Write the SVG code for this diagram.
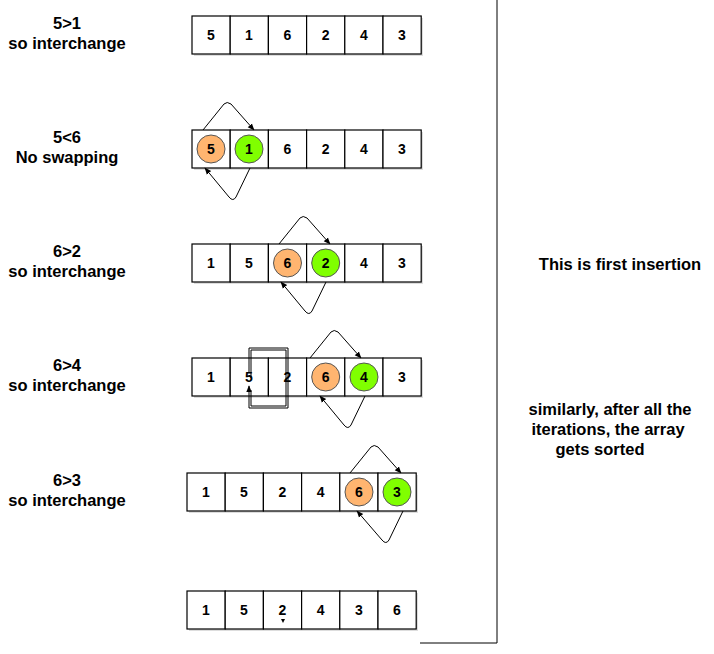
<svg xmlns="http://www.w3.org/2000/svg" width="714" height="654" viewBox="0 0 714 654">
<style>
text{font-family:"Liberation Sans",Arial,sans-serif;font-weight:bold;font-size:16.5px;fill:#000;text-anchor:middle}
.n{font-size:14px}
.c{fill:#fff;stroke:#000;stroke-width:1.2}
.sh{fill:#bbb;opacity:.5}
.o{fill:#FFB570;stroke:#555;stroke-width:1}
.g{fill:#80FF00;stroke:#555;stroke-width:1}
.a{fill:none;stroke:#000;stroke-width:1;marker-end:url(#ah)}
.l{fill:none;stroke:#000;stroke-width:1}
</style>
<defs>
<marker id="ah" viewBox="0 0 10 10" refX="9" refY="5" markerWidth="7" markerHeight="7" orient="auto"><path d="M0,1 L10,5 L0,9 z" fill="#000"/></marker>
<g id="row"><rect class="sh" x="2" y="2" width="229" height="38"/>
<rect class="c" x="0" y="0" width="38.2" height="38"/><rect class="c" x="38.2" y="0" width="38.2" height="38"/><rect class="c" x="76.4" y="0" width="38.2" height="38"/><rect class="c" x="114.6" y="0" width="38.2" height="38"/><rect class="c" x="152.8" y="0" width="38.2" height="38"/><rect class="c" x="191" y="0" width="38.2" height="38"/></g>
</defs>
<rect width="714" height="654" fill="#fff"/>
<g id="frame"><path class="l" d="M497,0 V643 H420"/></g>
<g id="labels">
<text x="67" y="29">5&gt;1</text><text x="67" y="49">so interchange</text>
<text x="67" y="143">5&lt;6</text><text x="67" y="163">No swapping</text>
<text x="67" y="257">6&gt;2</text><text x="67" y="277">so interchange</text>
<text x="67" y="371">6&gt;4</text><text x="67" y="391">so interchange</text>
<text x="67" y="486">6&gt;3</text><text x="67" y="506">so interchange</text>
<text x="620" y="270">This is first insertion</text>
<text x="610" y="415">similarly, after all the</text>
<text x="608" y="435">iterations, the array</text>
<text x="600" y="455">gets sorted</text>
</g>
<g id="row1" transform="translate(192,16)"><use href="#row"/>
<text class="n" x="19" y="24">5</text><text class="n" x="57" y="24">1</text><text class="n" x="95.5" y="24">6</text><text class="n" x="133.7" y="24">2</text><text class="n" x="172" y="24">4</text><text class="n" x="210" y="24">3</text></g>
<g id="row2" transform="translate(192,130)"><use href="#row"/>
<circle class="o" cx="19" cy="19" r="14"/><circle class="g" cx="57" cy="19" r="14"/>
<text class="n" x="19" y="24">5</text><text class="n" x="57" y="24">1</text><text class="n" x="95.5" y="24">6</text><text class="n" x="133.7" y="24">2</text><text class="n" x="172" y="24">4</text><text class="n" x="210" y="24">3</text></g>
<g id="row3" transform="translate(192,244)"><use href="#row"/>
<circle class="o" cx="95.5" cy="19" r="14"/><circle class="g" cx="133.7" cy="19" r="14"/>
<text class="n" x="19" y="24">1</text><text class="n" x="57" y="24">5</text><text class="n" x="95.5" y="24">6</text><text class="n" x="133.7" y="24">2</text><text class="n" x="172" y="24">4</text><text class="n" x="210" y="24">3</text></g>
<g id="row4" transform="translate(192,358)"><use href="#row"/>
<circle class="o" cx="133.7" cy="19" r="14"/><circle class="g" cx="172" cy="19" r="14"/>
<text class="n" x="19" y="24">1</text><text class="n" x="57" y="24">5</text><text class="n" x="95.5" y="24">2</text><text class="n" x="133.7" y="24">6</text><text class="n" x="172" y="24">4</text><text class="n" x="210" y="24">3</text></g>
<g id="row5" transform="translate(187,473)"><use href="#row"/>
<circle class="o" cx="172" cy="19" r="14"/><circle class="g" cx="210" cy="19" r="14"/>
<text class="n" x="19" y="24">1</text><text class="n" x="57" y="24">5</text><text class="n" x="95.5" y="24">2</text><text class="n" x="133.7" y="24">4</text><text class="n" x="172" y="24">6</text><text class="n" x="210" y="24">3</text></g>
<g id="row6" transform="translate(187,591)"><use href="#row"/>
<text class="n" x="19" y="24">1</text><text class="n" x="57" y="24">5</text><text class="n" x="95.5" y="24">2</text><text class="n" x="133.7" y="24">4</text><text class="n" x="172" y="24">3</text><text class="n" x="210" y="24">6</text></g>
<g id="connectors">
<path class="a" d="M203,130 L224,104 Q227,101 231,104 L254,130"/>
<path class="a" d="M250,168 L236,197 Q233,202 229,197 L205,168"/>
<path class="a" d="M279,244 L300,218 Q303,215 307,218 L330,244"/>
<path class="a" d="M326,282 L312,311 Q309,316 305,311 L281,282"/>
<path class="a" d="M310,358 L331,332 Q334,329 338,332 L361,358"/>
<path class="a" d="M365,396 L351,425 Q348,430 344,425 L320,396"/>
<path class="a" d="M350,473 L371,447 Q374,444 378,447 L401,473"/>
<path class="a" d="M403,511 L389,540 Q386,545 382,540 L357,511"/>
<path class="l" d="M251,378 V350 H286 V406 H251 V390"/>
<path class="l" d="M249,372 V348 H288 V408 H249"/>
<path class="a" d="M249,408 V386"/>
<path d="M281,619 L285,619 L283,623 z" fill="#000"/>
</g>
</svg>
